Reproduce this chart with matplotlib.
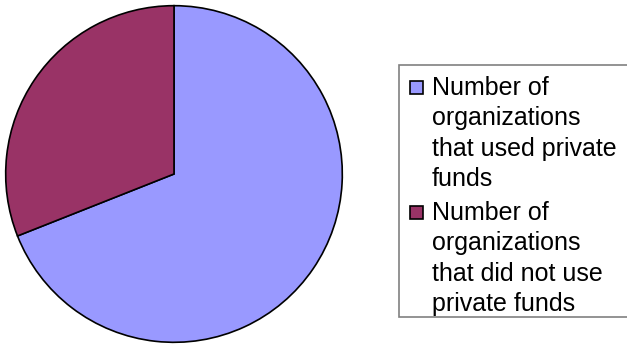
import matplotlib.pyplot as plt
from matplotlib.patches import Rectangle

# slice values (percent of organizations)
labels = ['Number of\norganizations\nthat used private\nfunds',
          'Number of\norganizations\nthat did not use\nprivate funds']
values = [69, 31]
colors = ['#9999FF', '#993366']

W, H = 627, 345
fig = plt.figure(figsize=(W / 100, H / 100), dpi=100)

# pie centred at (174, 174) px with radius ~170 px
cx, cy, r = 174, 174, 170
ax = fig.add_axes([(cx - r) / W, (H - cy - r) / H, 2 * r / W, 2 * r / H])
ax.pie(values, colors=colors, startangle=90, counterclock=False,
       wedgeprops=dict(edgecolor='black', linewidth=1.2))
ax.set_xlim(-1.01, 1.01)
ax.set_ylim(-1.01, 1.01)
ax.set_aspect('equal')
ax.axis('off')

# hand-built legend box, top-aligned swatches
def px(x, y):
    return x / W, 1 - y / H

x0, y0 = px(399, 317)
fig.patches.append(Rectangle((x0, y0), (640 - 399) / W, (317 - 65) / H,
                             transform=fig.transFigure, facecolor='white',
                             edgecolor='#808080', linewidth=1.2))

tops = [81, 206]
for lab, col, top in zip(labels, colors, tops):
    sx, sy = px(410, top + 13)
    fig.patches.append(Rectangle((sx, sy), 13 / W, 13 / H,
                                 transform=fig.transFigure, facecolor=col,
                                 edgecolor='black', linewidth=1.2))
    tx, ty = px(432, top - 5)
    fig.text(tx, ty, lab, ha='left', va='top', fontsize=18,
             family='Liberation Sans', linespacing=1.33)

fig.savefig('out.png', dpi=100)
